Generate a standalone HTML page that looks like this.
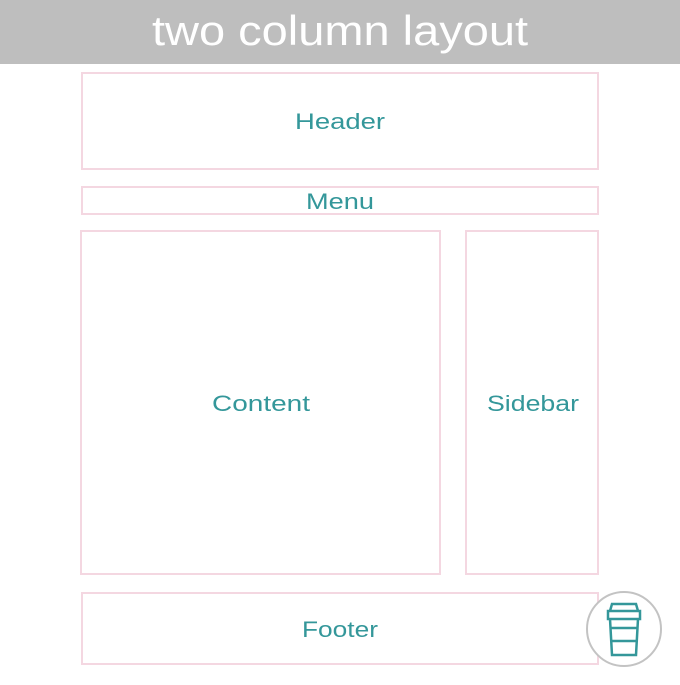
<!DOCTYPE html>
<html><head><style>body{margin:0;background:#fff}</style></head><body>
<svg width="680" height="680" viewBox="0 0 680 680" xmlns="http://www.w3.org/2000/svg" font-family="Liberation Sans, sans-serif">
<rect x="0" y="0" width="680" height="64" fill="#bebebe"/>
<text x="340" y="45" font-size="42" fill="#fff" text-anchor="middle" textLength="376" lengthAdjust="spacingAndGlyphs">two column layout</text>
<g fill="none" stroke="#f4d7e1" stroke-width="2">
<rect x="82" y="73" width="516" height="96"/>
<rect x="82" y="187" width="516" height="27"/>
<rect x="81" y="231" width="359" height="343"/>
<rect x="466" y="231" width="132" height="343"/>
<rect x="82" y="593" width="516" height="71"/>
</g>
<g fill="#34979a" font-size="22" text-anchor="middle">
<text x="340" y="129" textLength="90" lengthAdjust="spacingAndGlyphs">Header</text>
<text x="340" y="209" textLength="68" lengthAdjust="spacingAndGlyphs">Menu</text>
<text x="261" y="411" textLength="98" lengthAdjust="spacingAndGlyphs">Content</text>
<text x="533" y="411" textLength="92" lengthAdjust="spacingAndGlyphs">Sidebar</text>
<text x="340" y="637" textLength="76" lengthAdjust="spacingAndGlyphs">Footer</text>
</g>
<circle cx="624" cy="629" r="37" fill="#fff" stroke="#c3c3c3" stroke-width="2"/>
<g fill="none" stroke="#34979a" stroke-width="2.5">
<path d="M610 611 L612 604 L636 604 L638 611"/>
<rect x="608" y="611" width="32" height="8"/>
<path d="M610 619 L612 655 L636 655 L638 619"/>
<line x1="611" y1="628" x2="637" y2="628"/>
<line x1="612" y1="641" x2="636" y2="641"/>
</g>
</svg>
</body></html>
